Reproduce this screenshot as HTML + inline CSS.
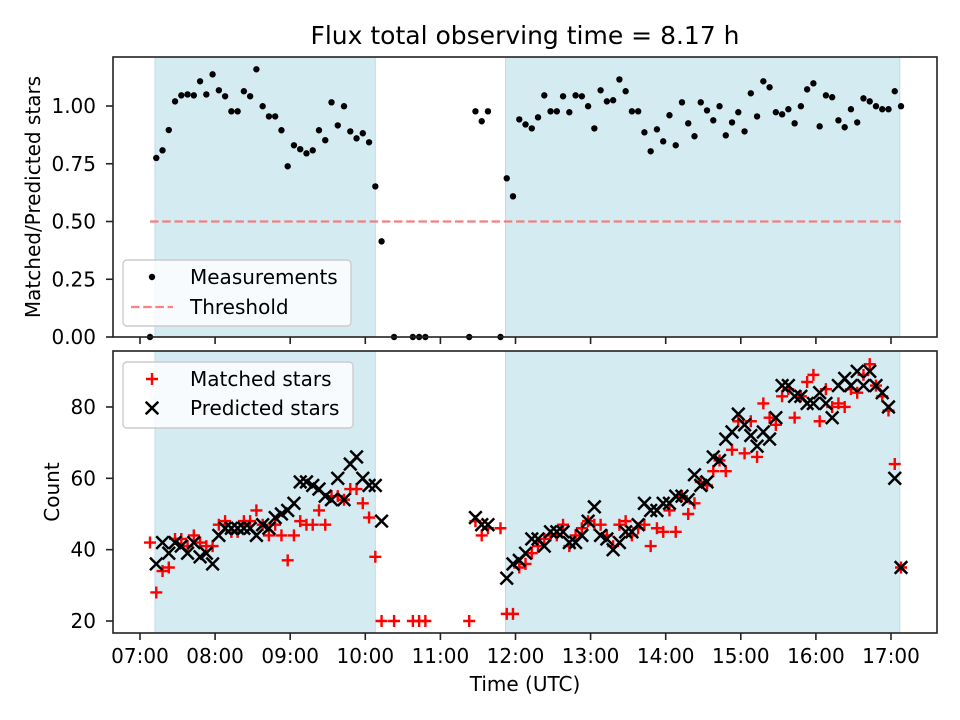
<!DOCTYPE html>
<html><head><meta charset="utf-8"><style>
html,body{margin:0;padding:0;background:#fff}
svg{display:block;font-family:"DejaVu Sans","Liberation Sans",sans-serif}
</style></head><body>
<svg id="chart" width="960" height="720" viewBox="0 0 960 720" xmlns="http://www.w3.org/2000/svg">
<text x="525" y="44" font-size="25" text-anchor="middle">Flux total observing time = 8.17 h</text>
<text transform="translate(40,197) rotate(-90)" font-size="20" text-anchor="middle">Matched/Predicted stars</text>
<text transform="translate(59,492) rotate(-90)" font-size="20" text-anchor="middle">Count</text>
<text x="525" y="691" font-size="20" text-anchor="middle">Time (UTC)</text>
<g id="topPanel"></g>
<g id="botPanel"></g>
</svg>
<script>
// minutes after 07:00
const timeMin = [8,13,18,23,28,33,38,43,48,53,58,63,68,73,78,83,88,93,98,103,108,113,118,123,128,133,138,143,148,153,158,163,168,173,178,183,188,193,
203,218,223,228,263,268,273,278,288,
293,298,303,308,313,318,323,328,333,338,343,348,353,358,363,368,373,378,383,388,393,398,403,408,413,418,423,428,433,438,443,448,453,458,463,468,473,478,483,488,493,498,503,508,513,518,523,528,533,538,543,548,553,558,563,568,573,578,583,588,593,598,603,608];
const ratio = [0,.775,.808,.896,1.02,1.046,1.05,1.046,1.107,1.05,1.137,1.068,1.042,.977,.977,1.064,1.042,1.159,.999,.955,.955,.895,.739,.83,.813,.795,.808,.895,.852,1.016,.916,.999,.89,.86,.882,.843,.652,.414,
0,0,0,0,0,.977,.934,.977,0,
.687,.609,.942,.92,.903,.951,1.046,.977,.977,1.042,.973,1.046,1.042,.999,.903,1.068,1.02,1.025,1.115,1.064,.977,.977,.886,.804,.899,.847,.96,.83,1.016,.925,.869,1.016,.981,.938,.999,.873,.929,.973,.89,1.055,.955,1.107,1.081,.973,.964,.986,.925,.999,1.072,1.098,.912,1.046,1.038,.938,.908,.986,.929,1.033,1.02,.999,.986,.986,1.064,.999];
const matched = [42,28,34,35,43,43,41,44,42,41,41,47,48,45,45,48,48,51,47,44,47,44,37,44,48,47,47,51,47,55,55,54,57,57,53,49,38,20,
20,20,20,20,20,48,44,46,46,
22,22,35,36,39,41,43,44,44,47,41,44,46,48,47,47,44,41,47,48,44,46,47,41,46,45,51,45,55,50,53,59,58,62,65,62,68,76,67,76,66,81,77,75,83,85,77,83,87,89,76,85,80,81,80,85,84,89,92,86,83,79,64,35];
const predicted = [null,36,42,39,42,41,39,42,38,39,36,44,46,46,46,46,46,44,47,46,49,50,51,53,59,59,58,57,55,54,60,54,64,66,60,58,58,48,
null,null,null,null,null,49,47,47,null,
32,36,37,39,43,43,41,45,45,45,42,42,44,48,52,44,43,40,42,45,45,47,53,51,51,53,53,55,55,54,61,58,59,66,65,71,73,78,75,72,69,73,71,77,86,86,83,83,81,81,84,81,77,86,88,86,90,86,90,86,84,80,60,35];
const spanStart = [12,292];
const spanEnd = [188,607];
const threshold = 0.5;
const thresholdRange = [8,608];
const xTickLabels = ["07:00","08:00","09:00","10:00","11:00","12:00","13:00","14:00","15:00","16:00","17:00"];
const xTickMin = [0,60,120,180,240,300,360,420,480,540,600];
const topTicks = [0,0.25,0.5,0.75,1.0];
const topTickLabels = ["0.00","0.25","0.50","0.75","1.00"];
const botTicks = [20,40,60,80];

const NS="http://www.w3.org/2000/svg";
const L=113,R=937, T1=57,B1=337, T2=351,B2=633;
const FS=20;
const xs = m => 140 + m/60*75.1;
const y1 = v => 337 - v*231;
const y2 = c => 621 - (c-20)*3.567;
function mk(tag,attrs,parent){const e=document.createElementNS(NS,tag);for(const k in attrs)e.setAttribute(k,attrs[k]);parent.appendChild(e);return e;}
const topG=document.getElementById('topPanel'), botG=document.getElementById('botPanel');
const P=6, XS=6.3;

function panel(g,T,B){
  for(let i=0;i<spanStart.length;i++){
    const r=mk('rect',{x:xs(spanStart[i]),y:T,width:xs(spanEnd[i])-xs(spanStart[i]),height:B-T,fill:'#d5ebf2',stroke:'#bcdde8','stroke-width':1},g);
    
    
  }
}
panel(topG,T1,B1); panel(botG,T2,B2);

const th=mk('line',{x1:xs(thresholdRange[0]),x2:xs(thresholdRange[1]),y1:y1(threshold),y2:y1(threshold),stroke:'#f08080','stroke-width':2.3,'stroke-dasharray':'8.5,3.7'},topG);



for(let i=0;i<timeMin.length;i++){
  if(ratio[i]==null)continue;
  const c=mk('circle',{cx:xs(timeMin[i]),cy:y1(ratio[i]),r:3.2,fill:'#000'},topG);
  
  
}
for(let i=0;i<timeMin.length;i++){
  const x=xs(timeMin[i]);
  if(matched[i]!=null){
    const y=y2(matched[i]);
    const p=mk('path',{d:`M${x-P},${y}H${x+P}M${x},${y-P}V${y+P}`,stroke:'#ff0000','stroke-width':2.4,fill:'none'},botG);
    
    
  }
}
for(let i=0;i<timeMin.length;i++){
  const x=xs(timeMin[i]);
  if(predicted[i]!=null){
    const y=y2(predicted[i]);
    const p=mk('path',{d:`M${x-XS},${y-XS}L${x+XS},${y+XS}M${x-XS},${y+XS}L${x+XS},${y-XS}`,stroke:'#000','stroke-width':2.5,fill:'none'},botG);
    
    
  }
}

for(const [g,T,B] of [[topG,T1,B1],[botG,T2,B2]]){
  const f=mk('rect',{x:L,y:T,width:R-L,height:B-T,fill:'none',stroke:'#222','stroke-width':1.6},g);
  
  
  xTickMin.forEach((m,i)=>{
    const t=mk('line',{x1:xs(m),x2:xs(m),y1:B,y2:B+7,stroke:'#222','stroke-width':1.6},g);
    
    
  });
}
xTickMin.forEach((m,i)=>{
  const t=mk('text',{x:xs(m),y:663,'font-size':FS,'text-anchor':'middle'},botG);
  t.textContent=xTickLabels[i];
  
  
});
topTicks.forEach((v,i)=>{
  mk('line',{x1:L-7,x2:L,y1:y1(v),y2:y1(v),stroke:'#222','stroke-width':1.6},topG);
  const t=mk('text',{x:L-17,y:y1(v)+7,'font-size':FS,'text-anchor':'end'},topG);
  t.textContent=topTickLabels[i];
  
  
});
botTicks.forEach(v=>{
  mk('line',{x1:L-7,x2:L,y1:y2(v),y2:y2(v),stroke:'#222','stroke-width':1.6},botG);
  const t=mk('text',{x:L-17,y:y2(v)+7,'font-size':FS,'text-anchor':'end'},botG);
  t.textContent=String(v);
  
  
});

function legend(g,x,y,w,h,rows,items){
  const lg=mk('g',{},g);
  
  
  mk('rect',{x:x,y:y,width:w,height:h,rx:4,fill:'rgba(255,255,255,0.8)',stroke:'#cccccc','stroke-width':1.4},lg);
  items.forEach((it,i)=>{
    const cy=rows[i];
    const mx=x+29;
    if(it.k==='dot') mk('circle',{cx:mx,cy:cy,r:3.2,fill:'#000'},lg);
    if(it.k==='dash') mk('line',{x1:mx-21,x2:mx+21,y1:cy,y2:cy,stroke:'#ff8080','stroke-width':2.3,'stroke-dasharray':'8.5,3.7'},lg);
    if(it.k==='plus') mk('path',{d:`M${mx-P},${cy}H${mx+P}M${mx},${cy-P}V${cy+P}`,stroke:'#f00','stroke-width':2.4},lg);
    if(it.k==='x') mk('path',{d:`M${mx-XS},${cy-XS}L${mx+XS},${cy+XS}M${mx-XS},${cy+XS}L${mx+XS},${cy-XS}`,stroke:'#000','stroke-width':2.5},lg);
    const t=mk('text',{x:x+67,y:cy+7,'font-size':FS},lg);
    t.textContent=it.t;
    
    
  });
}
legend(topG,123,260,228,66,[277,307],[{k:'dot',t:'Measurements'},{k:'dash',t:'Threshold'}]);
legend(botG,123,362,230,66,[379,408],[{k:'plus',t:'Matched stars'},{k:'x',t:'Predicted stars'}]);
</script>
</body></html>
